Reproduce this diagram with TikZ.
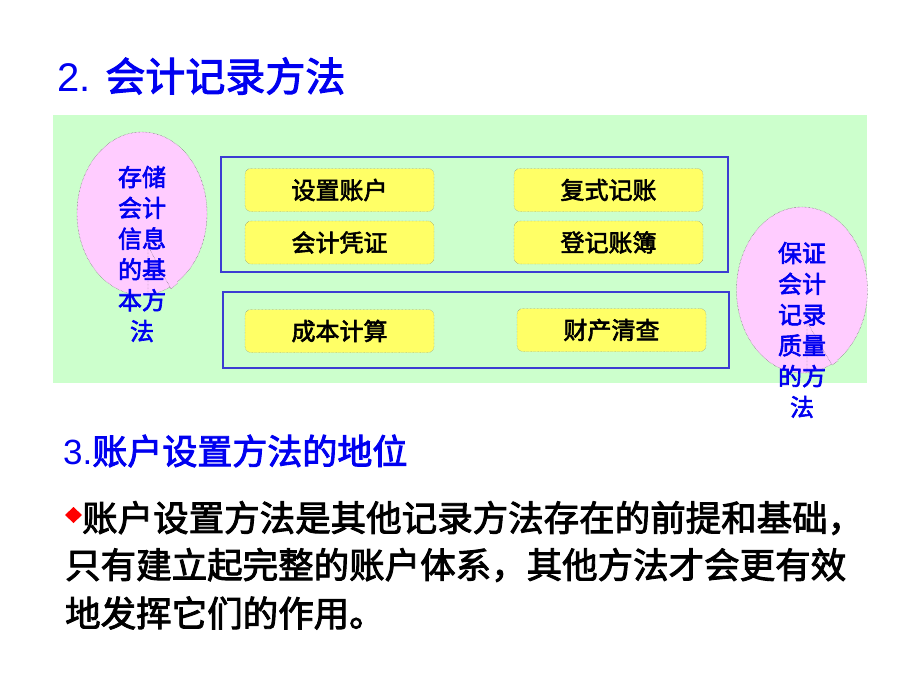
\documentclass[tikz,border=0pt]{standalone}
\usepackage{fontspec}
\setmainfont{Noto Sans CJK SC}[FakeBold=2.5]
\newfontfamily\arial{Liberation Sans}
\usetikzlibrary{shapes.geometric}
\definecolor{bgreen}{RGB}{204,255,204}
\definecolor{pinkc}{RGB}{255,204,255}
\definecolor{ybox}{RGB}{255,255,102}
\definecolor{tblue}{RGB}{0,0,240}
\definecolor{fblue}{RGB}{60,60,210}
\begin{document}
\begin{tikzpicture}[x=1pt,y=-1pt,
  methodbox/.style={draw=black!60, densely dotted, fill=ybox, rounded corners=6pt,
    minimum width=189pt, minimum height=43pt, inner sep=0pt,
    font=\fontsize{24}{24}\selectfont},
  groupbox/.style={draw=fblue, line width=1.3pt, inner sep=0pt},
  bubble/.style={ellipse, draw=black!70, densely dotted, fill=pinkc, inner sep=0pt},
  bubbleedge/.style={draw=black!70, densely dotted},
  bubbletext/.style={text=tblue, align=center, inner sep=0pt,
    font=\fontsize{24}{30.8}\selectfont},
  heading/.style={text=tblue, anchor=west, inner sep=0pt},
  body/.style={text=black, anchor=west, inner sep=0pt, font=\fontsize{35.5}{35.5}\selectfont}]
\fill[white] (0,0) rectangle (920,690);
\useasboundingbox (0,0) rectangle (920,690);

% title
\node[heading, font=\fontsize{40}{40}\selectfont] (title) at (57,76) {{\arial 2. }会计记录方法};

% green panel
\node[fill=bgreen, minimum width=814pt, minimum height=268pt, inner sep=0pt, anchor=north west] (panel) at (53,115) {};

% group frames
\node[groupbox, minimum width=507pt, minimum height=115pt] (g1) at (474.5,214.5) {};
\node[groupbox, minimum width=506pt, minimum height=76pt] (g2) at (476,330) {};

% method boxes
\node[methodbox] (b1) at (339.5,190) {设置账户};
\node[methodbox] (b2) at (608.5,190) {复式记账};
\node[methodbox] (b3) at (339.5,242.5) {会计凭证};
\node[methodbox] (b4) at (608.5,242.5) {登记账簿};
\node[methodbox] (b5) at (339.5,331) {成本计算};
\node[methodbox] (b6) at (611.5,330) {财产清查};

% left callout
\node[bubble, minimum width=130pt, minimum height=163pt] (lb) at (142,213.5) {};
\coordinate (lba) at (148,246);
\coordinate (lbb) at (148,293);
\coordinate (lbt) at (171,289);
\coordinate (lbc) at (178,283);
\fill[pinkc] (lba) -- (lbt) -- (lbc) -- cycle;
\path[bubbleedge] (lbb) -- (lba) -- (lbt) -- (lbc);
\node[bubbletext] (lt) at (142,254) {存储\\会计\\信息\\的基\\本方\\法};

% right callout
\node[bubble, minimum width=131pt, minimum height=166pt] (rb) at (802,290) {};
\coordinate (rba) at (807,322);
\coordinate (rbb) at (807,373);
\coordinate (rbt) at (832,365);
\coordinate (rbc) at (838,361);
\fill[pinkc] (rba) -- (rbt) -- (rbc) -- cycle;
\path[bubbleedge] (rbb) -- (rba) -- (rbt) -- (rbc);
\node[bubbletext] (rt) at (802,330) {保证\\会计\\记录\\质量\\的方\\法};

% section 3
\node[heading, font=\fontsize{35}{35}\selectfont] (sec) at (63,451) {{\arial 3.}账户设置方法的地位};
\coordinate (dia) at (73.5,515);
\fill[red] ([yshift=-8pt]dia) -- ([xshift=8.5pt]dia) -- ([yshift=8pt]dia) -- ([xshift=-8.5pt]dia) -- cycle;
\node[body] (l1) at (82,518) {账户设置方法是其他记录方法存在的前提和基础，};
\node[body] (l2) at (65,565) {只有建立起完整的账户体系，其他方法才会更有效};
\node[body] (l3) at (65,613) {地发挥它们的作用。};
\end{tikzpicture}
\end{document}
